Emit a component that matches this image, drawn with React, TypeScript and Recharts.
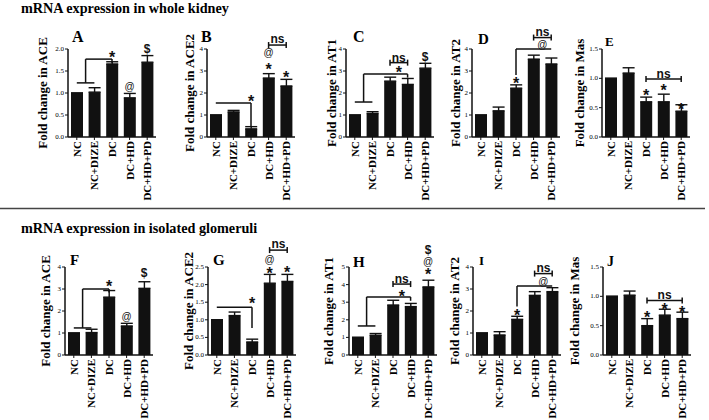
import React from 'react';
import { BarChart, Bar, XAxis, YAxis, ErrorBar, ReferenceLine, ReferenceDot, Label } from 'recharts';

// groups shared by every panel
const groups = ['NC', 'NC+DIZE', 'DC', 'DC+HD', 'DC+HD+PD'];

// [x1, y1, x2, y2] in data units, x = group index
type Seg = [number, number, number, number];
// [x, y, symbol]
type Mark = [number, number, string];
// [x1, x2, yLine, yText]
type Ns = [number, number, number, number];

// whole kidney
const aMean = [1.0, 1.02, 1.66, 0.89, 1.7];
const aErr = [0, 0.1, 0.05, 0.1, 0.15];
const aLines: Seg[] = [[0, 1.23, 1, 1.23], [0.5, 1.23, 0.5, 1.77], [0.5, 1.77, 2, 1.77], [2, 1.77, 2, 1.69]];
const aMarks: Mark[] = [[2, 1.9, '*'], [3, 1.14, '@'], [4, 2.0, '$']];

const bMean = [1.0, 1.14, 0.37, 2.68, 2.32];
const bErr = [0, 0.07, 0.1, 0.2, 0.3];
const bLines: Seg[] = [[0, 1.55, 2, 1.55], [2, 1.55, 2, 0.5]];
const bMarks: Mark[] = [[2, 1.77, '*'], [3, 3.25, '*'], [3, 3.86, '@'], [4, 2.86, '*']];
const bNs: Ns[] = [[3, 4, 4.18, 4.46]];

const cMean = [1.0, 1.07, 2.54, 2.39, 3.13];
const cErr = [0, 0.08, 0.18, 0.27, 0.22];
const cLines: Seg[] = [[0, 1.59, 1, 1.59], [0.5, 1.59, 0.5, 2.86], [0.5, 2.86, 3, 2.86], [3, 2.86, 3, 2.7]];
const cMarks: Mark[] = [[2.5, 3.1, '*'], [4, 3.62, '$']];
const cNs: Ns[] = [[2, 3, 3.38, 3.64]];

const dMean = [1.0, 1.19, 2.22, 3.54, 3.32];
const dErr = [0, 0.17, 0.15, 0.18, 0.27];
const dLines: Seg[] = [[2, 2.82, 2, 4.0], [2, 4.0, 4, 4.0]];
const dMarks: Mark[] = [[2, 2.6, '*'], [3.5, 4.22, '@']];
const dNs: Ns[] = [[3, 4, 4.52, 4.78]];

const eMean = [1.0, 1.09, 0.6, 0.6, 0.44];
const eErr = [0, 0.09, 0.08, 0.13, 0.11];
const eMarks: Mark[] = [[2, 0.77, '*'], [3, 0.85, '*'], [4, 0.53, '*']];
const eNs: Ns[] = [[2, 4, 0.99, 1.08]];

// isolated glomeruli
const fMean = [1.0, 1.02, 2.63, 1.32, 3.03];
const fErr = [0, 0.15, 0.3, 0.12, 0.3];
const fLines: Seg[] = [[0, 1.23, 1, 1.23], [0.5, 1.23, 0.5, 3.0], [0.5, 3.0, 2, 3.0], [2, 3.0, 2, 2.84]];
const fMarks: Mark[] = [[2, 3.27, '*'], [3, 1.73, '@'], [4, 3.75, '$']];

const gMean = [1.0, 1.12, 0.37, 2.04, 2.09];
const gErr = [0, 0.1, 0.08, 0.25, 0.2];
const gLines: Seg[] = [[0, 1.36, 2, 1.36], [2, 1.36, 2, 0.77]];
const gMarks: Mark[] = [[2, 1.56, '*'], [3, 2.42, '*'], [3, 2.7, '@'], [4, 2.45, '*']];
const gNs: Ns[] = [[3, 4, 2.98, 3.16]];

const hMean = [1.0, 1.12, 2.84, 2.75, 3.87];
const hErr = [0, 0.1, 0.27, 0.18, 0.38];
const hLines: Seg[] = [[0, 1.65, 1, 1.65], [0.5, 1.65, 0.5, 3.3], [0.5, 3.3, 3, 3.3], [3, 3.3, 3, 3.08]];
const hMarks: Mark[] = [[2.5, 3.56, '*'], [4, 4.78, '*'], [4, 5.32, '@'], [4, 5.95, '$']];
const hNs: Ns[] = [[2, 3, 4.03, 4.34]];

const iMean = [1.0, 0.91, 1.62, 2.71, 2.88];
const iErr = [0, 0.15, 0.14, 0.17, 0.18];
const iLines: Seg[] = [[2, 2.2, 2, 3.14], [2, 3.14, 4, 3.14]];
const iMarks: Mark[] = [[2, 1.95, '*'], [3.5, 3.36, '@']];
const iNs: Ns[] = [[3, 4, 3.7, 3.96]];

const jMean = [1.0, 1.02, 0.5, 0.68, 0.62];
const jErr = [0, 0.07, 0.12, 0.1, 0.11];
const jMarks: Mark[] = [[2, 0.7, '*'], [3, 0.84, '*'], [4, 0.79, '*']];
const jNs: Ns[] = [[2, 4, 0.93, 1.03]];

const ticks4 = [0, 1, 2, 3, 4];
const ticks5 = [0, 1, 2, 3, 4, 5];
const ticks2 = [0, 0.5, 1, 1.5, 2];
const ticks25 = [0, 0.5, 1, 1.5, 2, 2.5];
const ticks15 = [0, 0.5, 1, 1.5];

const SERIF = '"Liberation Serif", "Times New Roman", serif';
const SANS = '"Liberation Sans", Arial, sans-serif';
const INK = '#111';

const YW = 46;
const TOP = 32;
const PW = 88;
const PH = 88;
const BOTTOM = 66;
const RIGHT = 6;

function XTick(props: any) {
  const { x, y, payload } = props;
  return (
    <text
      transform={`translate(${x},${y}) rotate(-90)`}
      textAnchor="end"
      dominantBaseline="central"
      style={{ fontSize: 11, fontWeight: 'bold', fontFamily: SERIF }}
      fill="#000"
    >
      {groups[payload.value]}
    </text>
  );
}

function YTick(props: any) {
  const { x, y, payload, decimals } = props;
  return (
    <text
      x={x}
      y={y}
      textAnchor="end"
      dominantBaseline="central"
      style={{ fontSize: 7, fontFamily: SERIF }}
      fill="#000"
    >
      {Number(payload.value).toFixed(decimals)}
    </text>
  );
}

function symShape(s: string) {
  const star = s === '*';
  const size = star ? 16 : s === 'ns' ? 12 : s === '$' ? 12 : 10;
  return (props: any) => (
    <text
      x={props.cx}
      y={props.cy}
      textAnchor="middle"
      dominantBaseline="central"
      dy={star ? '0.24em' : s === 'ns' ? '0.05em' : 0}
      style={{ fontSize: size, fontWeight: s === '@' ? 'normal' : 'bold', fontFamily: SANS }}
      fill={INK}
    >
      {s}
    </text>
  );
}

interface PanelProps {
  axisX: number;
  top: number;
  labelGap: number;
  yLabel: string;
  yMax: number;
  yTicks: number[];
  decimals: number;
  mean: number[];
  err: number[];
  lines?: Seg[];
  marks?: Mark[];
  ns?: Ns[];
}

function Panel(p: PanelProps) {
  const rows = groups.map((g, i) => ({ i, name: g, v: p.mean[i], e: [0, p.err[i]] }));
  const tk = 3 / (PH / p.yMax);
  const line = (k: string, x1: number, y1: number, x2: number, y2: number) => (
    <ReferenceLine
      key={k}
      segment={[{ x: x1, y: y1 }, { x: x2, y: y2 }]}
      stroke={INK}
      strokeWidth={1.5}
      ifOverflow="visible"
    />
  );
  return (
    <div style={{ position: 'absolute', left: p.axisX - YW, top: p.top - TOP }}>
      <BarChart
        width={YW + PW + RIGHT}
        height={TOP + PH + BOTTOM}
        data={rows}
        margin={{ top: TOP, right: RIGHT, bottom: 0, left: 0 }}
      >
        <XAxis
          type="number"
          dataKey="i"
          domain={[-0.5, 4.5]}
          ticks={[0, 1, 2, 3, 4]}
          interval={0}
          tick={<XTick />}
          tickSize={3}
          tickMargin={1}
          height={BOTTOM}
          axisLine={{ stroke: INK, strokeWidth: 1.5 }}
          tickLine={{ stroke: INK }}
        />
        <YAxis
          type="number"
          domain={[0, p.yMax]}
          ticks={p.yTicks}
          interval={0}
          width={YW}
          tickSize={3}
          tickMargin={1}
          tick={<YTick decimals={p.decimals} />}
          axisLine={{ stroke: INK, strokeWidth: 1.5 }}
          tickLine={{ stroke: INK }}
        >
          <Label
            content={(lp: any) => {
              const vb = lp.viewBox;
              const cx = vb.x + vb.width - p.labelGap;
              const cy = vb.y + vb.height / 2;
              return (
                <text
                  transform={`translate(${cx},${cy}) rotate(-90)`}
                  textAnchor="middle"
                  dominantBaseline="central"
                  style={{ fontSize: 13, fontWeight: 'bold', fontFamily: SERIF }}
                  fill="#000"
                >
                  {p.yLabel}
                </text>
              );
            }}
          />
        </YAxis>
        <Bar dataKey="v" fill={INK} barSize={12} isAnimationActive={false}>
          <ErrorBar dataKey="e" width={6} stroke={INK} strokeWidth={1.4} direction="y" />
        </Bar>
        {(p.lines || []).map((s, k) => line('l' + k, s[0], s[1], s[2], s[3]))}
        {(p.ns || []).flatMap((n, k) => [
          line('n' + k, n[0], n[2], n[1], n[2]),
          line('na' + k, n[0], n[2] - tk, n[0], n[2] + tk),
          line('nb' + k, n[1], n[2] - tk, n[1], n[2] + tk),
          <ReferenceDot key={'nt' + k} x={(n[0] + n[1]) / 2} y={n[3]} r={0} ifOverflow="visible" shape={symShape('ns')} />,
        ])}
        {(p.marks || []).map((m, k) => (
          <ReferenceDot key={'m' + k} x={m[0]} y={m[1]} r={0} ifOverflow="visible" shape={symShape(m[2])} />
        ))}
      </BarChart>
    </div>
  );
}

const letters: [string, number, number, number][] = [
  ['A', 72, 42, 16], ['B', 201, 42, 16], ['C', 353, 42, 16], ['D', 478, 44, 15], ['E', 605, 46, 13],
  ['F', 70, 265, 15], ['G', 213, 265, 15], ['H', 353, 267, 15], ['I', 479, 265, 13], ['J', 607, 266, 14],
];

export default function App() {
  const row1 = 49;
  const row2 = 267;
  const serif = { fontFamily: SERIF, fontWeight: 'bold' as const };
  return (
    <div style={{ position: 'absolute', left: 0, top: 0, width: 709, height: 420, background: '#fff', overflow: 'hidden' }}>
      <svg width={709} height={420} style={{ position: 'absolute', left: 0, top: 0 }}>
        <text x={21} y={13} style={{ ...serif, fontSize: 14.2 }} fill="#000">
          mRNA expression in whole kidney
        </text>
        <line x1={0} y1={208.5} x2={705} y2={208.5} stroke="#444" strokeWidth={1.5} />
        <text x={21} y={233} style={{ ...serif, fontSize: 14.2 }} fill="#000">
          mRNA expression in isolated glomeruli
        </text>
        {letters.map(([t, x, y, fs]) => (
          <text key={t} x={x} y={y} style={{ ...serif, fontSize: fs }} fill="#000">
            {t}
          </text>
        ))}
      </svg>
      <Panel axisX={68} top={row1} labelGap={26} yLabel="Fold change in ACE" yMax={2} yTicks={ticks2} decimals={1} mean={aMean} err={aErr} lines={aLines} marks={aMarks} />
      <Panel axisX={207} top={row1} labelGap={18} yLabel="Fold change in ACE2" yMax={4} yTicks={ticks4} decimals={0} mean={bMean} err={bErr} lines={bLines} marks={bMarks} ns={bNs} />
      <Panel axisX={346} top={row1} labelGap={15} yLabel="Fold change in AT1" yMax={4} yTicks={ticks4} decimals={0} mean={cMean} err={cErr} lines={cLines} marks={cMarks} ns={cNs} />
      <Panel axisX={472} top={row1} labelGap={17} yLabel="Fold change in AT2" yMax={4} yTicks={ticks4} decimals={0} mean={dMean} err={dErr} lines={dLines} marks={dMarks} ns={dNs} />
      <Panel axisX={602} top={row1} labelGap={23} yLabel="Fold change in Mas" yMax={1.5} yTicks={ticks15} decimals={1} mean={eMean} err={eErr} marks={eMarks} ns={eNs} />
      <Panel axisX={65} top={row2} labelGap={20} yLabel="Fold change in ACE" yMax={4} yTicks={ticks4} decimals={0} mean={fMean} err={fErr} lines={fLines} marks={fMarks} />
      <Panel axisX={208} top={row2} labelGap={20} yLabel="Fold change in ACE2" yMax={2.5} yTicks={ticks25} decimals={1} mean={gMean} err={gErr} lines={gLines} marks={gMarks} ns={gNs} />
      <Panel axisX={349} top={row2} labelGap={21} yLabel="Fold change in AT1" yMax={5} yTicks={ticks5} decimals={0} mean={hMean} err={hErr} lines={hLines} marks={hMarks} ns={hNs} />
      <Panel axisX={473} top={row2} labelGap={19} yLabel="Fold change in AT2" yMax={4} yTicks={ticks4} decimals={0} mean={iMean} err={iErr} lines={iLines} marks={iMarks} ns={iNs} />
      <Panel axisX={603} top={row2} labelGap={29} yLabel="Fold change in Mas" yMax={1.5} yTicks={ticks15} decimals={1} mean={jMean} err={jErr} marks={jMarks} ns={jNs} />
    </div>
  );
}
